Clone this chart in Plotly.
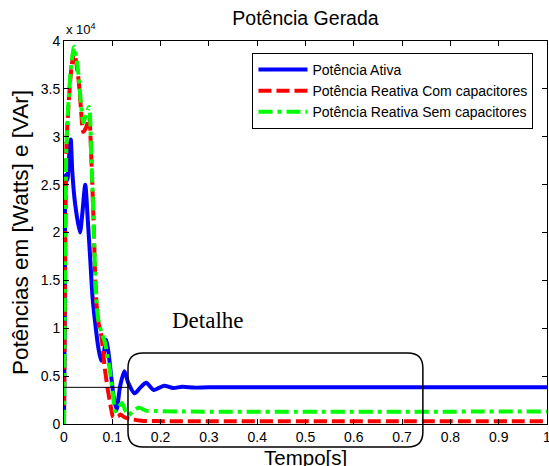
import plotly.graph_objects as go

# Tempo [s] e potências [W / VAr]
t_ativa = [0, 0.002, 0.004, 0.007, 0.010, 0.014, 0.017, 0.023, 0.033, 0.038, 0.044,
           0.049, 0.054, 0.059, 0.064, 0.071, 0.077, 0.082, 0.087, 0.092, 0.097,
           0.103, 0.109, 0.116, 0.125, 0.133, 0.146, 0.158, 0.170, 0.186, 0.207,
           0.226, 0.245, 0.270, 0.300, 1.000]
p_ativa = [0, 15000, 26000, 25500, 27500, 29700, 26500, 23000, 20000, 22000, 25000,
           21500, 17500, 13300, 10800, 8000, 6600, 7300, 8800, 7500, 5300,
           2800, 1500, 3900, 5500, 4300, 3200, 3800, 4300, 3550, 4000,
           3750, 3900, 3800, 3850, 3830]

t_com = [0, 0.002, 0.005, 0.009, 0.015, 0.021, 0.030, 0.035, 0.040, 0.046, 0.052,
         0.056, 0.061, 0.066, 0.071, 0.078, 0.084, 0.091, 0.098, 0.102, 0.112,
         0.117, 0.125, 0.140, 0.160, 0.200, 1.000]
q_com = [0, 15000, 29000, 33000, 37000, 38800, 36000, 33000, 30500, 31000, 32000,
         28500, 21500, 13500, 10700, 9000, 6000, 3500, 1500, 700, 800,
         1000, 700, 500, 350, 300, 300]

t_sem = [0, 0.002, 0.005, 0.009, 0.015, 0.021, 0.030, 0.035, 0.040, 0.045, 0.052,
         0.056, 0.061, 0.066, 0.071, 0.078, 0.085, 0.090, 0.095, 0.102, 0.106,
         0.112, 0.120, 0.127, 0.133, 0.142, 0.155, 0.170, 0.190, 0.250, 1.000]
q_sem = [0, 15000, 29000, 33500, 37500, 39400, 36500, 33500, 31500, 32200, 33100,
         28600, 21600, 13700, 10900, 9500, 8500, 7000, 5600, 2800, 1300,
         1700, 2200, 1400, 900, 1300, 1700, 1400, 1350, 1300, 1300]

x_ticks = [0, 0.1, 0.2, 0.3, 0.4, 0.5, 0.6, 0.7, 0.8, 0.9, 1.0]
x_labels = ["0", "0.1", "0.2", "0.3", "0.4", "0.5", "0.6", "0.7", "0.8", "0.9", "1"]
y_ticks = [0, 5000, 10000, 15000, 20000, 25000, 30000, 35000, 40000]
y_labels = ["0", "0.5", "1", "1.5", "2", "2.5", "3", "3.5", "4"]

# região destacada (fração do eixo)
det_x0, det_x1 = 0.1325, 0.743
det_y0, det_y1 = -0.060, 0.1854
rx, ry = 0.031, 0.039

FONT = "Liberation Sans"
SMOOTH = 0.7

fig = go.Figure()
fig.add_trace(go.Scatter(x=t_ativa, y=p_ativa, mode="lines", name="Potência Ativa",
                         line=dict(color="#0000ff", width=4, shape="spline",
                                   smoothing=SMOOTH)))
fig.add_trace(go.Scatter(x=t_com, y=q_com, mode="lines",
                         name="Potência Reativa Com capacitores",
                         line=dict(color="#ff0000", width=4, dash="13px,5px",
                                   shape="spline", smoothing=SMOOTH)))
fig.add_trace(go.Scatter(x=t_sem, y=q_sem, mode="lines",
                         name="Potência Reativa Sem capacitores",
                         line=dict(color="#00ff00", width=4, dash="14px,5px,4px,5px",
                                   shape="spline", smoothing=SMOOTH)))

# referência do valor final da potência ativa
fig.add_shape(type="line", xref="x", yref="y", x0=0, x1=det_x0,
              y0=p_ativa[-1], y1=p_ativa[-1], line=dict(color="black", width=1))

path = (f"M{det_x0+rx},{det_y1} L{det_x1-rx},{det_y1} Q{det_x1},{det_y1} {det_x1},{det_y1-ry} "
        f"L{det_x1},{det_y0+ry} Q{det_x1},{det_y0} {det_x1-rx},{det_y0} "
        f"L{det_x0+rx},{det_y0} Q{det_x0},{det_y0} {det_x0},{det_y0+ry} "
        f"L{det_x0},{det_y1-ry} Q{det_x0},{det_y1} {det_x0+rx},{det_y1} Z")
fig.add_shape(type="path", xref="paper", yref="paper", path=path,
              line=dict(color="black", width=1.5))

fig.add_annotation(text="Detalhe", xref="paper", yref="paper", x=0.298, y=0.2715,
                   showarrow=False, xanchor="center", yanchor="middle",
                   font=dict(family="Liberation Serif", size=23, color="black"))
fig.add_annotation(text="x 10<sup>4</sup>", xref="paper", yref="paper", x=0, y=1.005,
                   showarrow=False, xanchor="left", yanchor="bottom",
                   font=dict(family=FONT, size=13, color="black"))
# rótulo do eixo do tempo
fig.add_annotation(text="Tempo[s]", xref="paper", yref="paper", x=0.5, y=-0.088,
                   showarrow=False, xanchor="center", yanchor="middle",
                   font=dict(family=FONT, size=20.5, color="black"))

axis_common = dict(showline=True, linecolor="black", linewidth=1, mirror="ticks",
                   ticks="inside", ticklen=5, tickcolor="black", showgrid=False,
                   zeroline=False, ticklabeloverflow="allow", automargin=False,
                   tickfont=dict(family=FONT, size=14, color="black"))

fig.update_layout(
    width=549, height=466,
    margin=dict(l=64, r=2, t=41, b=42),
    paper_bgcolor="white", plot_bgcolor="white",
    font=dict(family=FONT, color="black"),
    title=dict(text="Potência Gerada", x=0.5, xref="paper", xanchor="center",
               y=1 - 18 / 466, yref="container", yanchor="middle",
               font=dict(family=FONT, size=19.5, color="black")),
    xaxis=dict(range=[0, 1], tickvals=x_ticks, ticktext=x_labels, **axis_common),
    yaxis=dict(range=[0, 40000], tickvals=y_ticks, ticktext=y_labels,
               title=dict(text="Potências em [Watts] e [VAr]",
                          font=dict(family=FONT, size=22.5), standoff=5),
               **axis_common),
    legend=dict(x=0.972, y=0.969, xanchor="right", yanchor="top",
                bgcolor="white", bordercolor="black", borderwidth=1,
                font=dict(family=FONT, size=14, color="black"),
                itemwidth=49, tracegroupgap=0),
    showlegend=True,
)

fig.write_html("out.html")
